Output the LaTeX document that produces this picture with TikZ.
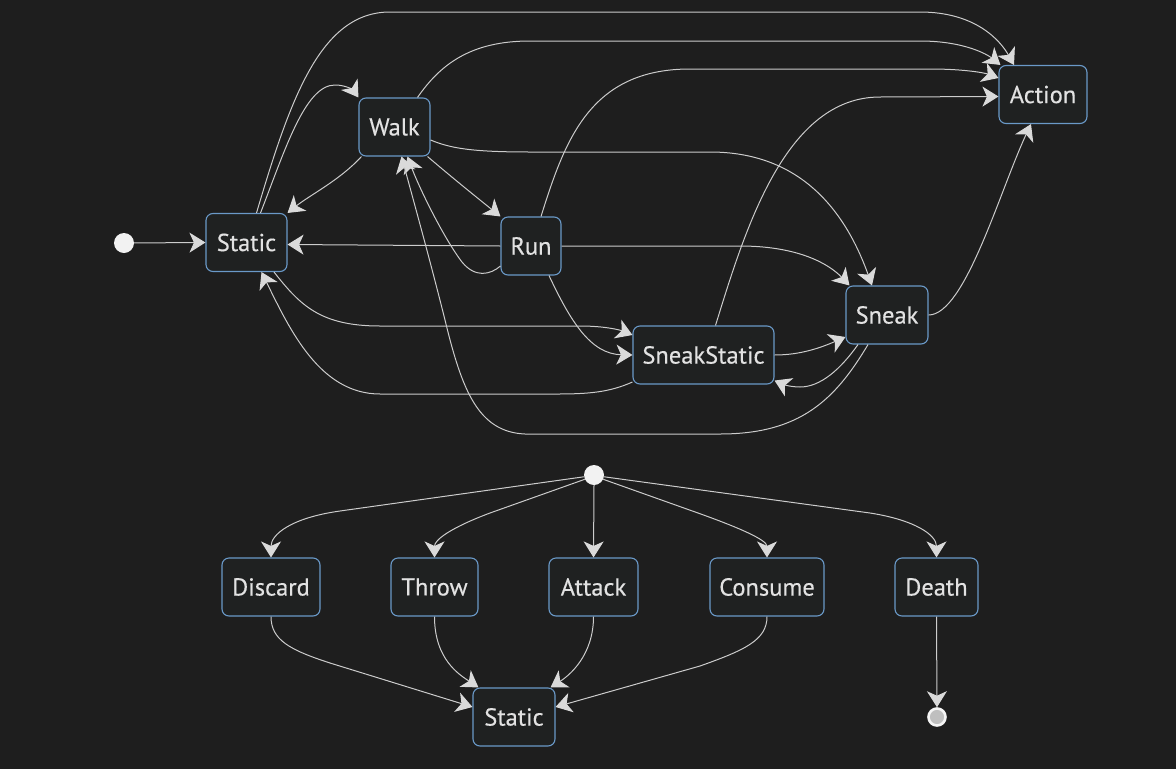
\documentclass[tikz,border=0pt]{standalone}
\usepackage{fontspec}
\setmainfont{PT Sans}
\newfontfamily\nodefont{PT Sans}[FakeBold=0.35]
\usetikzlibrary{arrows.meta}
\definecolor{bg}{RGB}{30,30,30}
\definecolor{nodefill}{RGB}{31,33,33}
\definecolor{nodeborder}{RGB}{106,153,200}
\definecolor{linec}{RGB}{204,204,204}
\definecolor{arrc}{RGB}{218,218,218}
\definecolor{txt}{RGB}{226,226,226}
\begin{document}
\begin{tikzpicture}[x=1pt,y=-1pt,
  state/.style={draw=nodeborder, fill=nodefill, rounded corners=7pt, line width=1.1pt,
    minimum height=58pt, inner sep=0pt, text=txt, font=\nodefont\fontsize{24.5}{28}\selectfont},
  startst/.style={circle, fill=white!95!black, minimum size=20pt, inner sep=0pt},
  endst/.style={circle, draw=white!96!black, line width=2.6pt, fill=white!75!black, minimum size=17pt, inner sep=0pt},
  edge/.style={draw=linec, line width=1pt, -{Stealth[length=16pt,width=20pt,inset=4.5pt,color=arrc]}}
]
\useasboundingbox (0,0) rectangle (1176,769);
\fill[bg] (0,0) rectangle (1176,769);

% ---------- top graph ----------
\node[startst] (st1) at (124,243) {};
\node[state, minimum width=81pt] (S1) at (246.5,242.5) {Static};
\node[state, minimum width=71pt] (W) at (394.5,127) {Walk};
\node[state, minimum width=60pt] (R) at (531,246) {Run};
\node[state, minimum width=88pt] (A) at (1043,94.5) {Action};
\node[state, minimum width=82pt] (K) at (887,315) {Sneak};
\node[state, minimum width=141pt] (SS) at (703.5,355) {SneakStatic};

\draw[edge] (st1) -- (S1.west);
% Static -> Walk
\draw[edge] ([xshift=14pt]S1.north) .. controls (285,150) and (305,85) .. (335,85)
  .. controls (347,85) and (354,91) .. (W.north west);
% Static -> Action
\draw[edge] ([xshift=10pt]S1.north) .. controls (290,100) and (320,12) .. (390,12)
  -- (920,12) .. controls (975,12) and (1000,40) .. ([xshift=-29pt]A.north);
% Walk -> Action
\draw[edge] ([xshift=23pt]W.north) .. controls (440,65) and (470,41) .. (530,41)
  -- (920,41) .. controls (965,41) and (988,55) .. ([xshift=2pt]A.north west);
% Run -> Action
\draw[edge] ([xshift=10pt]R.north) .. controls (565,140) and (590,69) .. (690,69)
  -- (930,69) .. controls (965,69) and (985,73) .. ([yshift=16.5pt]A.west);
% SneakStatic -> Action
\draw[edge] ([xshift=12pt]SS.north) .. controls (745,230) and (785,97) .. (880,97)
  -- ([yshift=-2pt]A.west);
% Sneak -> Action
\draw[edge] (K.east) .. controls (965,315) and (1000,190) .. ([xshift=-12pt]A.south);
% Walk -> Static
\draw[edge] ([xshift=3pt]W.south west) .. controls (340,180) and (310,195) .. (S1.north east);
% Walk -> Run
\draw[edge] ([xshift=-3pt]W.south east) .. controls (455,180) and (480,200) .. (R.north west);
% Walk -> Sneak
\draw[edge] ([yshift=-13pt]W.east) .. controls (450,148) and (470,152) .. (530,152)
  -- (710,152) .. controls (800,152) and (845,210) .. ([xshift=-15pt]K.north);
% Run -> Static
\draw[edge] (R.west) -- ([yshift=-2pt]S1.east);
% Run -> Walk
\draw[edge] ([yshift=-20pt]R.west) .. controls (490,275) and (475,278) .. (462,262)
  .. controls (445,240) and (420,190) .. ([xshift=13pt]W.south);
% Run -> Sneak
\draw[edge] (R.east) -- (740,246) .. controls (800,246) and (830,265) .. ([xshift=4pt]K.north west);
% Run -> SneakStatic
\draw[edge] ([xshift=18pt]R.south) .. controls (570,320) and (590,354) .. (SS.west);
% Static -> SneakStatic
\draw[edge] ([xshift=27.5pt]S1.south) .. controls (300,305) and (320,326) .. (380,326)
  -- (580,326) .. controls (605,326) and (620,330) .. ([yshift=20pt]SS.west);
% SneakStatic -> Static
\draw[edge] ([yshift=-27pt]SS.west) .. controls (610,392) and (590,394) .. (557,394)
  -- (380,394) .. controls (320,394) and (290,330) .. ([xshift=15pt]S1.south);
% SneakStatic -> Sneak
\draw[edge] (SS.east) .. controls (800,355) and (820,348) .. ([yshift=-22pt]K.west);
% Sneak -> SneakStatic
\draw[edge] ([xshift=-29pt]K.south) .. controls (840,370) and (820,387) .. (800,387)
  .. controls (790,387) and (782,384) .. ([yshift=4pt]SS.south east);
% Sneak -> Walk
\draw[edge] ([xshift=-19pt]K.south) .. controls (835,400) and (800,434) .. (720,434)
  -- (525,434) .. controls (478,432) and (462,390) .. (445,320)
  .. controls (430,260) and (412,195) .. ([xshift=7pt]W.south);

% ---------- bottom graph ----------
\node[startst] (st2) at (594,475) {};
\node[state, minimum width=98pt] (D) at (271,587) {Discard};
\node[state, minimum width=87pt] (T) at (434.5,587) {Throw};
\node[state, minimum width=89pt] (Att) at (593.5,587) {Attack};
\node[state, minimum width=114pt] (C) at (767,587) {Consume};
\node[state, minimum width=83pt] (De) at (936.5,587) {Death};
\node[state, minimum width=82pt] (S2) at (514,717) {Static};
\node[endst] (fin) at (937,717) {};

\draw[edge] (st2.190) -- (340,511) .. controls (290,518) and (271,535) .. (D.north);
\draw[edge] (st2.205) -- (490,513) .. controls (450,528) and (434.5,540) .. (T.north);
\draw[edge] (st2.south) -- (Att.north);
\draw[edge] (st2.-25) -- (698,513) .. controls (740,528) and (767,540) .. (C.north);
\draw[edge] (st2.-10) -- (870,513) .. controls (915,520) and (936.5,535) .. (De.north);

\draw[edge] (D.south) .. controls (271,640) and (290,650) .. (330,663) -- ([yshift=10pt]S2.west);
\draw[edge] (T.south) .. controls (434.5,660) and (460,675) .. ([xshift=6pt]S2.north west);
\draw[edge] (Att.south) .. controls (593.5,655) and (570,675) .. ([xshift=-5pt]S2.north east);
\draw[edge] (C.south) .. controls (767,640) and (745,650) .. (700,666) -- ([yshift=10pt]S2.east);
\draw[edge] (De.south) -- (fin.north);
\end{tikzpicture}
\end{document}
